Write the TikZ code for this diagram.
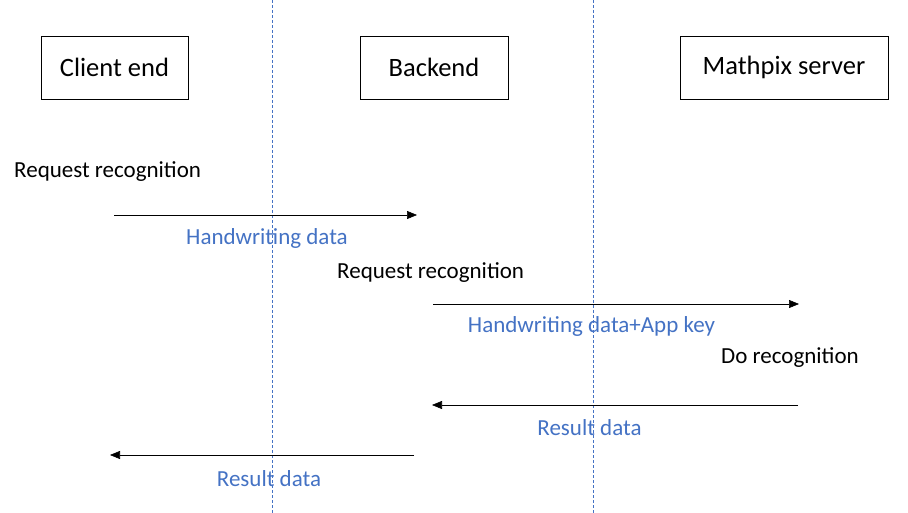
\documentclass[tikz,border=0pt]{standalone}
\usepackage{fontspec}
\setmainfont{Carlito}
\usepackage{tikz}
\usetikzlibrary{arrows.meta, positioning}
\definecolor{msgblue}{HTML}{4472C4}
\tikzstyle{party}=[draw, thick, minimum height=63pt, inner sep=0pt, font=\fontsize{26.5}{30}\selectfont]
\tikzstyle{callout}=[anchor=west, inner sep=0pt, font=\fontsize{23}{27}\selectfont]
\tikzstyle{datalabel}=[inner sep=0pt, text=msgblue, font=\fontsize{23}{27}\selectfont]
\tikzstyle{message}=[-{Triangle[length=10pt, width=8pt]}, semithick]
\tikzstyle{divider}=[msgblue, dashed, dash pattern=on 3pt off 2pt, thin]

\begin{document}
\begin{tikzpicture}[x=1pt, y=-1pt]
    \useasboundingbox (0,0) rectangle (908,513);

    % Dividers
    \coordinate (d1top) at (272,0);  \coordinate (d1bot) at (272,513);
    \coordinate (d2top) at (593,0);  \coordinate (d2bot) at (593,513);
    \draw[divider] (d1top) -- (d1bot);
    \draw[divider] (d2top) -- (d2bot);

    % Parties
    \node[party, minimum width=147pt] (client) at (114.5,67.5) {Client end};
    \node[party, minimum width=148pt] (backend) at (434,67.5) {Backend};
    \node[party, minimum width=208pt] (mathpix) at (784,67.5) {Mathpix server};

    % Client -> Backend
    \node[callout] (req1) at (14,172) {Request recognition};
    \coordinate (m1s) at (114,215); \coordinate (m1e) at (417,215);
    \draw[message] (m1s) -- (m1e);
    \node[datalabel] (hw1) at (267,238) {Handwriting data};

    % Backend -> Mathpix
    \node[callout] (req2) at (337,273) {Request recognition};
    \coordinate (m2s) at (433,304); \coordinate (m2e) at (799,304);
    \draw[message] (m2s) -- (m2e);
    \node[datalabel] (hw2) at (591.5,326) {Handwriting data+App key};
    \node[callout] (rec) at (721,358) {Do recognition};

    % Mathpix -> Backend
    \coordinate (m3s) at (798,405); \coordinate (m3e) at (432,405);
    \draw[message] (m3s) -- (m3e);
    \node[datalabel] (res1) at (589.5,428) {Result data};

    % Backend -> Client
    \coordinate (m4s) at (414,455); \coordinate (m4e) at (110,455);
    \draw[message] (m4s) -- (m4e);
    \node[datalabel] (res2) at (269,479) {Result data};
\end{tikzpicture}
\end{document}
